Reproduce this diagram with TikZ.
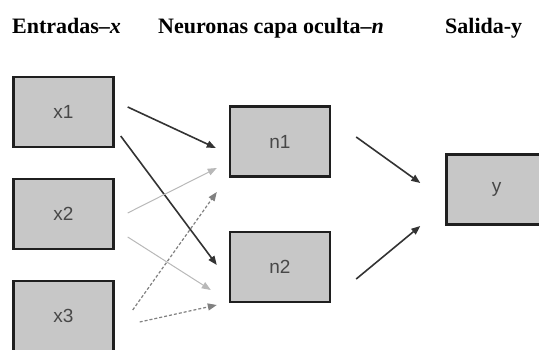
\documentclass[tikz,border=0pt]{standalone}
\usepackage{fontspec}
\setmainfont{Liberation Serif}
\setsansfont{Liberation Sans}
\usetikzlibrary{arrows.meta}

\begin{document}
\begin{tikzpicture}[x=1pt,y=1pt,
	neuron/.style={draw=black!88,line width=2.4pt,fill=black!22,minimum width=100pt,minimum height=70pt,inner sep=0pt,font=\sffamily\fontsize{19}{19}\selectfont,text=black!72},
	heading/.style={anchor=base west,inner sep=0pt,font=\bfseries\fontsize{22}{22}\selectfont},
	strong/.style={-{Triangle[length=9pt,width=7pt]},line width=1.6pt,draw=black!80},
	weak/.style={-{Triangle[length=9pt,width=7pt]},line width=1pt,draw=black!28},
	dashlink/.style={-{Triangle[length=9pt,width=7pt]},line width=1.2pt,draw=black!50,dash pattern=on 3pt off 2pt}]
\clip (0,0) rectangle (539,350);
\node[heading] (hx) at (12,316) {Entradas--\textit{x}};
\node[heading] (hn) at (158,316) {Neuronas capa oculta--\textit{n}};
\node[heading] (hy) at (445,316) {Salida-y};
\node[neuron] (x1) at (63.5,238) {x1};
\node[neuron] (x2) at (63.5,136) {x2};
\node[neuron] (x3) at (63.5,34) {x3};
\node[neuron] (n1) at (280,208.5) {n1};
\node[neuron] (n2) at (280,83) {n2};
\node[neuron] (y) at (496.5,160.5) {y};
\draw[strong] ([shift={(13,5)}]x1.east) -- ([shift={(-13,-6.5)}]n1.west);
\draw[strong] ([shift={(6,-24)}]x1.east) -- ([shift={(-12,2)}]n2.west);
\draw[weak] ([shift={(13,1)}]x2.east) -- ([shift={(-12,-26.5)}]n1.west);
\draw[weak] ([shift={(13,-23)}]x2.east) -- ([shift={(-18,-23)}]n2.west);
\draw[dashlink] ([shift={(18,6)}]x3.east) -- ([shift={(-12,-50.5)}]n1.west);
\draw[dashlink] ([shift={(25,-6)}]x3.east) -- ([shift={(-12,-38)}]n2.west);
\draw[strong] ([shift={(25,4.5)}]n1.east) -- ([shift={(-25,6.5)}]y.west);
\draw[strong] ([shift={(25,-12)}]n2.east) -- ([shift={(-25,-36.5)}]y.west);
\end{tikzpicture}
\end{document}
